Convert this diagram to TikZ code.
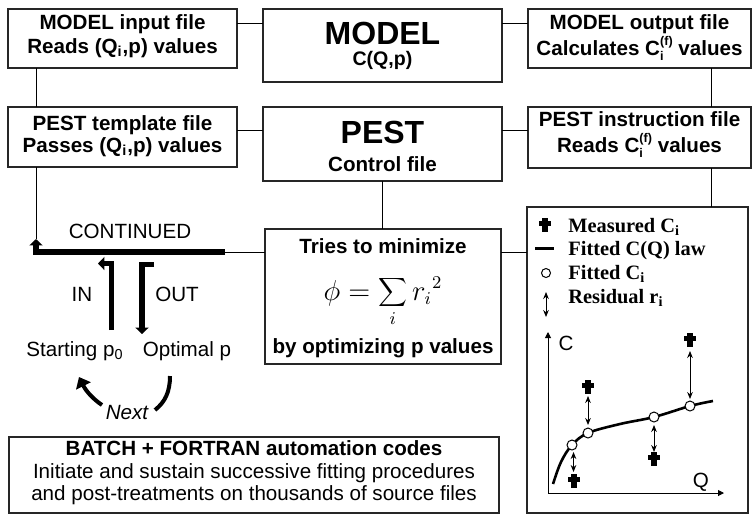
\documentclass[tikz,border=0pt]{standalone}
\usepackage{fontspec}
\setmainfont{Liberation Sans}
\newfontfamily\tnr{Liberation Serif}
\usetikzlibrary{arrows.meta}
\newcommand\fbold{\fontsize{10.3}{12}\selectfont\bfseries}
\newcommand\freg{\fontsize{10.3}{12}\selectfont}
\newcommand\fbig{\fontsize{16}{18}\selectfont\bfseries}
\newcommand\ftnr{\tnr\fontsize{10.2}{12}\selectfont\bfseries}
\newcommand\Cif{C\makebox[0pt][l]{\raisebox{-0.55ex}{\fontsize{6.3}{7}\selectfont i}}\raisebox{0.9ex}{\fontsize{6.3}{7}\selectfont (f)}}
\tikzset{
  meas/.pic={\fill (-2.6,-7) rectangle (2.6,7); \fill (-6,-4.2) rectangle (6,0.8);}
}
\begin{document}
\begin{tikzpicture}[x=0.5pt,y=-0.5pt,
  box/.style={draw=black!85, line width=0.6pt, fill=white, inner sep=0pt, outer sep=0pt},
  conn/.style={line width=0.5pt},
  lbl/.style={anchor=base, inner sep=0pt},
  thickarrow/.style={line width=2.8pt, line join=miter, -{Triangle[width=6.5pt,length=3.2pt]}},
  resid/.style={line width=0.45pt, {Stealth[width=2.8pt,length=3.5pt]}-{Stealth[width=2.8pt,length=3.5pt]}},
  axis/.style={line width=0.5pt, -{Triangle[width=3pt,length=3pt]}},
  fitpt/.style={draw, fill=white, line width=0.5pt},
]
\useasboundingbox (0,0) rectangle (755,516);

% ---- boxes
\node[box, minimum width=114.5pt, minimum height=29.5pt] (b1) at (122.5,38.5) {};
\node[box, minimum width=119.5pt, minimum height=36.5pt] (model) at (382.5,45.5) {};
\node[box, minimum width=111.5pt, minimum height=29.5pt] (mout) at (639.5,38.5) {};
\node[box, minimum width=114.5pt, minimum height=30pt] (tmpl) at (122.5,137) {};
\node[box, minimum width=119.5pt, minimum height=37pt] (pest) at (382.5,144) {};
\node[box, minimum width=111.5pt, minimum height=30.5pt] (instr) at (639.5,137.5) {};
\node[box, minimum width=118pt, minimum height=67.5pt] (mini) at (383,296.5) {};
\node[box, minimum width=110.5pt, minimum height=153pt] (chart) at (637.5,360) {};
\node[box, minimum width=245pt, minimum height=38pt] (batch) at (254,475) {};

% ---- box texts
\node[lbl] (b1a) at (122.5,29) {\fbold MODEL input file};
\node[lbl] (b1b) at (122.5,53) {\fbold Reads (Q\textsubscript{i},p) values};
\node[lbl] (moda) at (382.5,44) {\fbig MODEL};
\node[lbl] (modb) at (382.5,65) {\fontsize{9.8}{11}\selectfont\bfseries C(Q,p)};
\node[lbl] (mouta) at (639.5,29) {\fbold MODEL output file};
\node[lbl] (moutb) at (639.5,55) {\fbold Calculates \Cif\ values};
\node[lbl] (tmpla) at (122.5,130) {\fbold PEST template file};
\node[lbl] (tmplb) at (122.5,152) {\fbold Passes (Q\textsubscript{i},p) values};
\node[lbl] (pesta) at (382.5,143) {\fbig PEST};
\node[lbl] (pestb) at (382.5,171) {\fbold Control file};
\node[lbl] (instra) at (639.5,126) {\fbold PEST instruction file};
\node[lbl] (instrb) at (639.5,152) {\fbold Reads \Cif\ values};
\node[lbl] (minia) at (383,253) {\fbold Tries to minimize};
\node[lbl] (minib) at (383,300) {\fontsize{13.5}{16}\selectfont $\displaystyle \phi = \sum_i {r_i}^2$};
\node[lbl] (minic) at (383,353) {\fbold by optimizing p values};
\node[lbl] (batcha) at (254,455) {\fbold BATCH + FORTRAN automation codes};
\node[lbl] (batchb) at (254,478) {\freg Initiate and sustain successive fitting procedures};
\node[lbl] (batchc) at (254,500) {\freg and post-treatments on thousands of source files};

% ---- left loop labels
\node[lbl] (cont) at (130,238) {\freg CONTINUED};
\node[lbl] (inl) at (82,301) {\freg IN};
\node[lbl] (outl) at (177,301) {\freg OUT};
\node[lbl] (start) at (75,356) {\freg Starting p\textsubscript{0}};
\node[lbl] (optim) at (187,356) {\freg Optimal p};
\node[lbl] (next) at (127,419) {\freg\itshape Next};

% ---- helper coordinates
\coordinate (r23) at (0,23);
\coordinate (r130) at (0,130);
\coordinate (r252) at (0,252);
\coordinate (c36) at (36,0);
\coordinate (c711) at (711,0);
\coordinate (contend) at (225,252);
\coordinate (contcorner) at (36,252);
\coordinate (conttip) at (36,239);
\coordinate (inbot) at (111.5,330);
\coordinate (incorner) at (111.5,263.5);
\coordinate (intip) at (98,263.5);
\coordinate (outstart) at (154,264.5);
\coordinate (outcorner) at (142,264.5);
\coordinate (outtip) at (142,334);
\coordinate (nextatail) at (102,405);
\coordinate (nextatip) at (79,377);
\coordinate (nextbbot) at (155,410);
\coordinate (nextbtop) at (170,376);

% ---- connectors
\draw[conn] (b1.east |- r23) -- (model.west |- r23);
\draw[conn] (model.east |- r23) -- (mout.west |- r23);
\draw[conn] (b1.south -| c36) -- (tmpl.north -| c36);
\draw[conn] (tmpl.east |- r130) -- (pest.west |- r130);
\draw[conn] (pest.east |- r130) -- (instr.west |- r130);
\draw[conn] (mout.south -| c711) -- (instr.north -| c711);
\draw[conn] (instr.south -| c711) -- (chart.north -| c711);
\draw[conn] (pest.south) -- (pest.south |- mini.north);
\draw[conn] (mini.east |- r252) -- (chart.west |- r252);
\draw[conn] (contend) -- (mini.west |- r252);
\draw[conn] (tmpl.south -| c36) -- (conttip);

% ---- thick arrows
\draw[thickarrow] (contend) -- (contcorner) -- (conttip);
\draw[thickarrow] (inbot) -- (incorner) -- (intip);
\draw[thickarrow] (outstart) -- (outcorner) -- (outtip);
\draw[line width=2pt, -{Triangle[width=8pt,length=5pt]}] (nextatail) .. controls (93,399) and (86,391) .. (nextatip);
\draw[line width=2pt] (nextbbot) .. controls (165,402) and (170,392) .. (nextbtop);

% ---- legend
\pic at (545,225) {meas};
\draw[line width=1.5pt] (535,248) -- (554,248);
\draw[fitpt] (546,273) circle[radius=4.5];
\draw[resid] (546,292) -- (546,317);
\node[lbl, anchor=base west] (lega) at (568,232) {\ftnr Measured C\textsubscript{i}};
\node[lbl, anchor=base west] (legb) at (568,255) {\ftnr Fitted C(Q) law};
\node[lbl, anchor=base west] (legc) at (568,279) {\ftnr Fitted C\textsubscript{i}};
\node[lbl, anchor=base west] (legd) at (568,303) {\ftnr Residual r\textsubscript{i}};

% ---- chart
\coordinate (orig) at (548,493);
\draw[axis] (orig) -- (548,332);
\draw[axis] (orig) -- (724,493);
\node (cl) at (566,343) {\freg C};
\node (ql) at (701,482) {\freg Q};
\draw[line width=1.3pt] plot[smooth, tension=0.6] coordinates {(553,484) (561,462) (572,445) (588,433) (620,424) (654,417) (690,406) (713,401)};
\draw[resid] (573.5,452) -- (573.5,472);
\draw[resid] (588,396) -- (588,425);
\draw[resid] (654,425) -- (654,452);
\draw[resid] (690,351) -- (690,399);
\pic at (574,481) {meas};
\pic at (588,387) {meas};
\pic at (654,459) {meas};
\pic at (690,340) {meas};
\draw[fitpt] (572,445) circle[radius=5];
\draw[fitpt] (588,433) circle[radius=5];
\draw[fitpt] (654,417) circle[radius=5];
\draw[fitpt] (690,406) circle[radius=5];
\end{tikzpicture}
\end{document}
